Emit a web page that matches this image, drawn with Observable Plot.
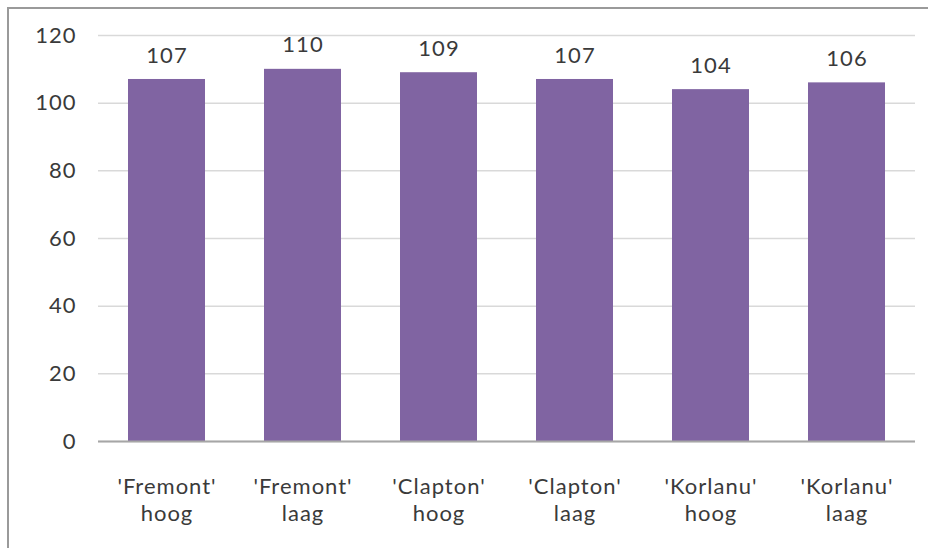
<!DOCTYPE html>
<html>
<head>
<meta charset="utf-8">
<script src="https://cdn.jsdelivr.net/npm/d3@7"></script>
<script src="https://cdn.jsdelivr.net/npm/@observablehq/plot@0.6"></script>
<style>
  html, body { margin: 0; padding: 0; background: #fff; }
  #wrap { position: relative; width: 928px; height: 548px; overflow: hidden; }
  #box { position: absolute; left: 7px; top: 7px; width: 940px; height: 560px;
         border-left: 2px solid #9a9a9a; border-top: 2px solid #9a9a9a; pointer-events: none; }
  svg { font-family: Lato, "Open Sans", sans-serif; }
  svg text { letter-spacing: 1px; }
</style>
</head>
<body>
<div id="wrap"><div id="box"></div></div>
<script>
// Cultivars / treatment (hoog = high, laag = low)
const categories = ["'Fremont'\nhoog", "'Fremont'\nlaag", "'Clapton'\nhoog", "'Clapton'\nlaag", "'Korlanu'\nhoog", "'Korlanu'\nlaag"];
const values = [107, 110, 109, 107, 104, 106];
const yTicks = [0, 20, 40, 60, 80, 100, 120];

const data = categories.map((c, i) => ({category: c, value: values[i]}));

const chart = Plot.plot({
  width: 928,
  height: 548,
  marginLeft: 98,
  marginRight: 13,
  marginTop: 35,
  marginBottom: 107,
  style: {fontSize: "22px", color: "#3a3a3a", background: "transparent"},
  x: {domain: categories, paddingInner: 0.435, paddingOuter: 0.2175, label: null},
  y: {domain: [0, 120], label: null},
  marks: [
    Plot.gridY(yTicks, {stroke: "#d9d9d9", strokeOpacity: 1, strokeWidth: 1.5}),
    Plot.barY(data, {x: "category", y: "value", fill: "#8064a2"}),
    Plot.ruleY([0], {stroke: "#a6a6a6", strokeWidth: 2}),
    Plot.axisY(yTicks, {tickSize: 0, tickPadding: 22, fontSize: 22, fill: "#3a3a3a"}),
    Plot.axisX({tickSize: 0, tickPadding: 34, fontSize: 22, lineHeight: 1.2, fill: "#3a3a3a", label: null}),
    Plot.text(data, {x: "category", y: "value", text: d => String(d.value), dy: -24, fontSize: 22, fill: "#3a3a3a"})
  ]
});
document.getElementById("wrap").prepend(chart);
</script>
</body>
</html>
